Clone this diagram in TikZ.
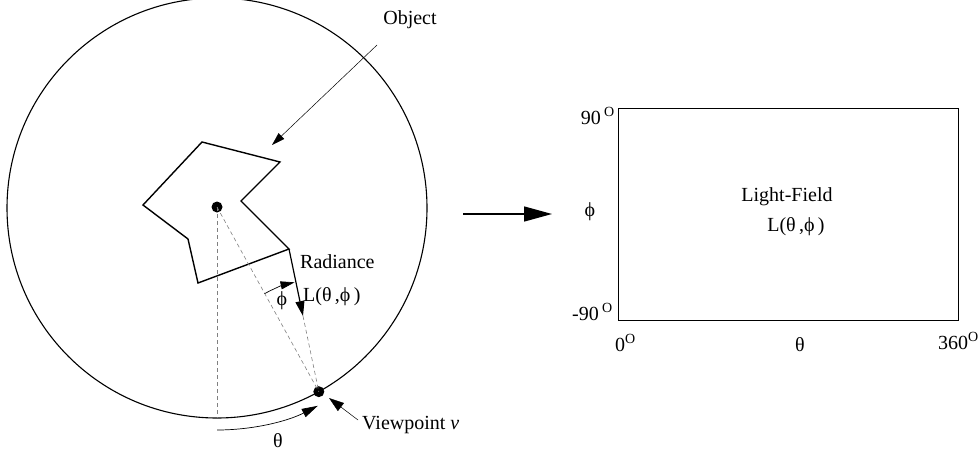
\documentclass[tikz,border=0pt]{standalone}
\usepackage{fontspec}
\setmainfont{Liberation Serif}
\usetikzlibrary{arrows.meta,calc}
\begin{document}
\begin{tikzpicture}[x=1pt,y=-1pt,
  lbl/.style={font=\fontsize{20}{22}\selectfont, inner sep=0pt},
  dsh/.style={dashed, dash pattern=on 4pt off 3pt, gray, line width=0.6pt},
  thin leader/.style={line width=0.5pt, -{Triangle[length=13pt,width=8pt]}},
  tipx/.style={-{Triangle[length=15pt,width=9pt]}}]
\useasboundingbox (0,0) rectangle (979,452);
% sphere
\coordinate (c) at (217,208);
\draw[line width=1.1pt] (c) circle[radius=210];
% object polygon
\coordinate (p1) at (202,142);
\coordinate (p2) at (280,162);
\coordinate (p3) at (241,201);
\coordinate (p4) at (289,249);
\coordinate (p5) at (198,283);
\coordinate (p6) at (188,239);
\coordinate (p7) at (143,205);
\draw[line width=1.4pt, line join=miter] (p1)--(p2)--(p3)--(p4)--(p5)--(p6)--(p7)--cycle;
% points
\coordinate (vp) at ($(c)+(61:210)$);
\coordinate (bot) at ($(c)+(90:210)$);
\node[circle, fill=black, inner sep=0pt, minimum size=11pt] (cdot) at (217,207) {};
\node[circle, fill=black, inner sep=0pt, minimum size=11pt] (vdot) at (vp) {};
% dashed rays
\draw[dsh] (cdot.center) -- (bot);
\draw[dsh] (cdot.center) -- (vdot.center);
\coordinate (rt) at ($(p4)!0.47!(vp)$);
\draw[dsh] (rt) -- (vdot.center);
% radiance arrow
\draw[line width=1.2pt, tipx] (p4) -- (rt);
% phi arc
\draw[line width=0.7pt, -{Triangle[length=14pt,width=8pt]}] ($(vp)+(241:112)$) arc[start angle=241, end angle=257.5, radius=112];
\node[lbl] (phia) at (282,301) {ϕ};
% theta arc
\draw[line width=0.7pt, -{Triangle[length=16pt,width=9pt]}] ($(c)+(90:222)$) arc[start angle=90, end angle=63, radius=222];
\node[lbl] (thl) at (278,441) {θ};
% labels
\node[lbl, anchor=west] (rad) at (300,262) {Radiance};
\node[lbl, anchor=west] (radL) at (303,297) {L(θ\,,ϕ\,)};
\node[lbl] (obj) at (410,20) {Object};
\coordinate (objs) at (377,45);
\coordinate (objt) at (272,145);
\draw[thin leader] (objs) -- (objt);
\node[lbl, anchor=west] (vpl) at (362,425) {Viewpoint \textit{v}};
\coordinate (vps) at (358,420);
\coordinate (vpt) at (329,398);
\draw[line width=0.5pt, -{Triangle[length=15pt,width=10pt]}] (vps) -- (vpt);
% big arrow
\coordinate (a1) at (463,214);
\coordinate (a2) at (552,214);
\draw[line width=1.4pt, -{Triangle[length=28pt,width=15pt]}] (a1) -- (a2);
% light field box
\node[draw, line width=1pt, minimum width=340pt, minimum height=212pt, inner sep=0pt] (lf) at (788,214) {};
\node[lbl] (lft) at (787,197) {Light-Field};
\node[lbl] (lfl) at (796,227) {L(θ\,,ϕ\,)};
\node[lbl, anchor=east] (n90) at (615,116) {90\,\textsuperscript{O}};
\node[lbl, anchor=east] (nm90) at (613,312) {-90\,\textsuperscript{O}};
\node[lbl] (phil) at (590,212) {ϕ};
\node[lbl, anchor=west] (n0) at (615,343) {0\textsuperscript{O}};
\node[lbl] (thb) at (800,345) {θ};
\node[lbl, anchor=east] (n360) at (979,341) {360\textsuperscript{O}};
\end{tikzpicture}
\end{document}
